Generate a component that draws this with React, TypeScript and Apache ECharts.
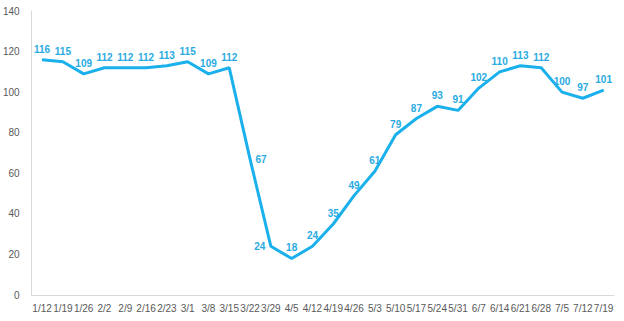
import React, { useEffect, useRef } from "react";
import * as echarts from "echarts";

const categories = ["1/12","1/19","1/26","2/2","2/9","2/16","2/23","3/1","3/8","3/15","3/22","3/29","4/5","4/12","4/19","4/26","5/3","5/10","5/17","5/24","5/31","6/7","6/14","6/21","6/28","7/5","7/12","7/19"];
const values = [116,115,109,112,112,112,113,115,109,112,67,24,18,24,35,49,61,79,87,93,91,102,110,113,112,100,97,101];
const labelPositions: Record<number, string> = { 10: "right", 11: "left" };

export default function App() {
  const ref = useRef<HTMLDivElement>(null);
  useEffect(() => {
    const chart = echarts.init(ref.current!, null, { renderer: "svg" });
    chart.setOption({
      animation: false,
      backgroundColor: "#ffffff",
      grid: { left: 31, right: 10, top: 11, bottom: 26, containLabel: false },
      xAxis: {
        type: "category",
        data: categories,
        boundaryGap: true,
        axisLine: { lineStyle: { color: "#d9d9d9", width: 1 } },
        axisTick: { show: false },
        axisLabel: { color: "#595959", fontSize: 10, fontFamily: "Liberation Sans, Arial, sans-serif", interval: 0, margin: 8 },
      },
      yAxis: {
        type: "value",
        min: 0,
        max: 140,
        interval: 20,
        axisLine: { show: true, lineStyle: { color: "#d9d9d9", width: 1 } },
        axisTick: { show: false },
        splitLine: { show: false },
        axisLabel: { color: "#595959", fontSize: 10, fontFamily: "Liberation Sans, Arial, sans-serif", margin: 12 },
      },
      series: [
        {
          type: "line",
          data: values.map((v, i) => ({
            value: v,
            label: { show: true, position: labelPositions[i] || "top" },
          })),
          symbol: "circle",
          symbolSize: 1,
          showSymbol: true,
          lineStyle: { color: "#1AB0EC", width: 3 },
          itemStyle: { color: "#1AB0EC" },
          label: {
            show: true,
            position: "top",
            distance: 5,
            color: "#29ABE2",
            fontSize: 10,
            fontWeight: "bold",
            fontFamily: "Liberation Sans, Arial, sans-serif",
          },
        },
      ],
    });
    return () => chart.dispose();
  }, []);
  return <div ref={ref} style={{ width: 624, height: 321, position: "absolute", left: 0, top: 0 }} />;
}
